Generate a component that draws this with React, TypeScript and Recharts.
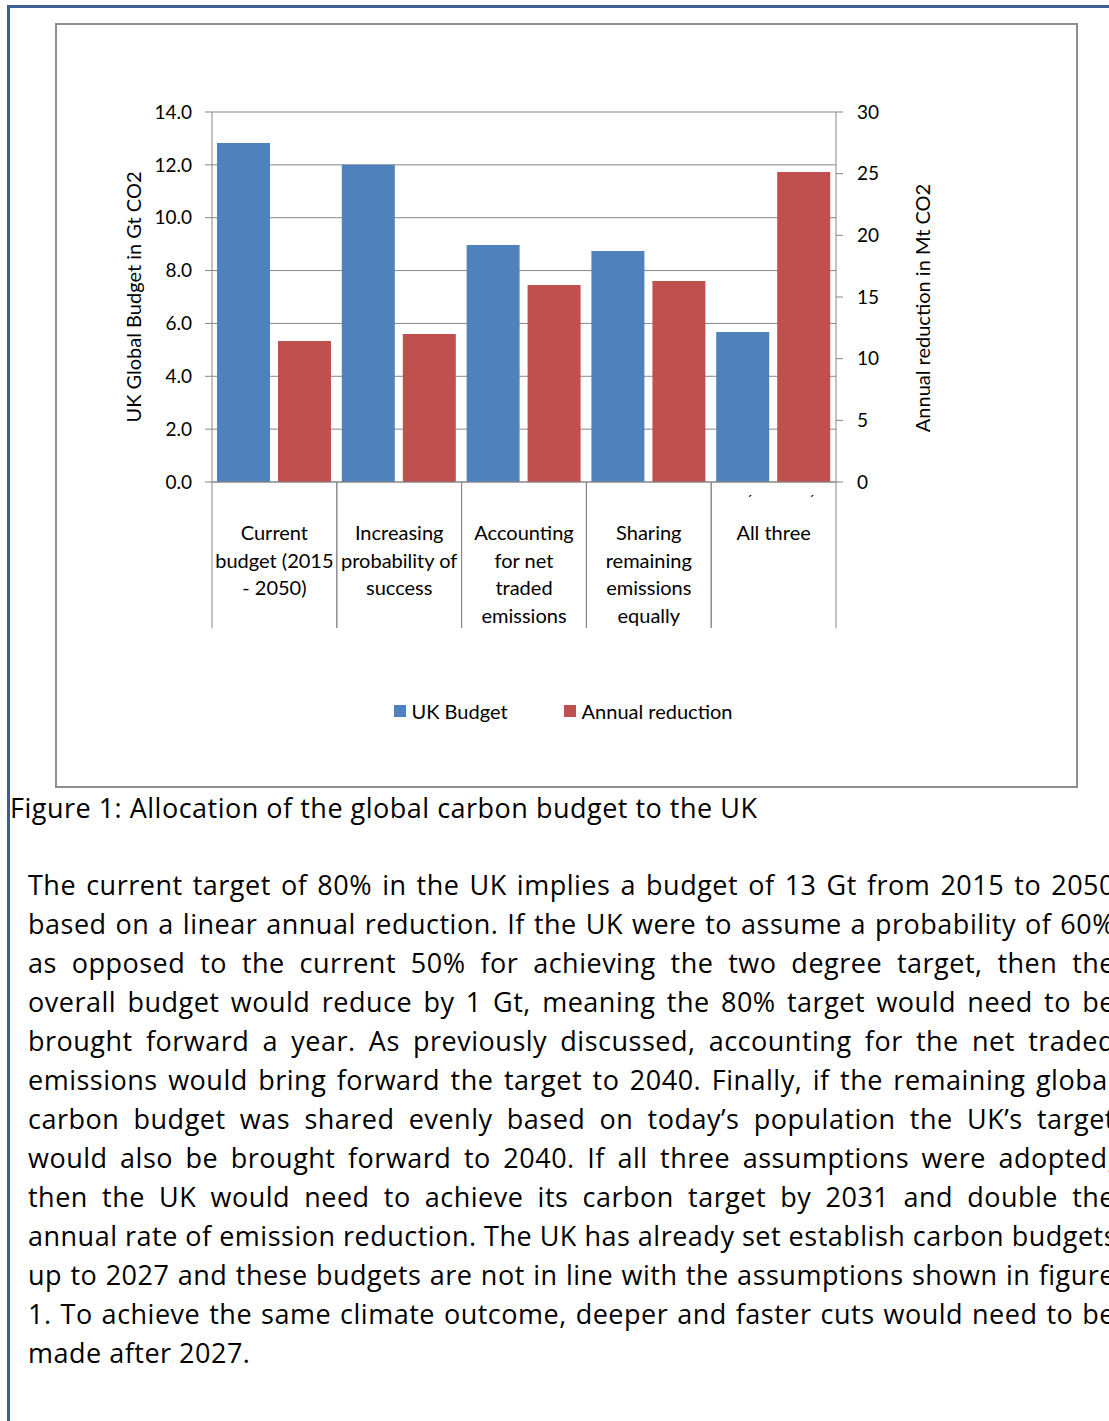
import React from 'react';
import { BarChart, Bar, XAxis, YAxis, CartesianGrid, Legend } from 'recharts';

const CATEGORIES = [
  'Current budget (2015 - 2050)',
  'Increasing probability of success',
  'Accounting for net traded emissions',
  'Sharing remaining emissions equally',
  'All three',
];
const CATEGORY_LINES = [
  ['Current', 'budget (2015', '- 2050)'],
  ['Increasing', 'probability of', 'success'],
  ['Accounting', 'for net', 'traded', 'emissions'],
  ['Sharing', 'remaining', 'emissions', 'equally'],
  ['All three'],
];
const UK_BUDGET = [12.83, 12.0, 8.97, 8.74, 5.68];
const ANNUAL_REDUCTION = [11.43, 12.0, 15.97, 16.3, 25.14];
const LEFT_TICKS = [0, 2, 4, 6, 8, 10, 12, 14];
const RIGHT_TICKS = [0, 5, 10, 15, 20, 25, 30];
const SERIES_ORDER = ['UK Budget', 'Annual reduction'];

const PARAGRAPH_LINES = [
  'The current target of 80% in the UK implies a budget of 13 Gt from 2015 to 2050',
  'based on a linear annual reduction. If the UK were to assume a probability of 60%',
  'as opposed to the current 50% for achieving the two degree target, then the',
  'overall budget would reduce by 1 Gt, meaning the 80% target would need to be',
  'brought forward a year. As previously discussed, accounting for the net traded',
  'emissions would bring forward the target to 2040. Finally, if the remaining global',
  'carbon budget was shared evenly based on today\u2019s population the UK\u2019s target',
  'would also be brought forward to 2040. If all three assumptions were adopted,',
  'then the UK would need to achieve its carbon target by 2031 and double the',
  'annual rate of emission reduction. The UK has already set establish carbon budgets',
  'up to 2027 and these budgets are not in line with the assumptions shown in figure',
  '1. To achieve the same climate outcome, deeper and faster cuts would need to be',
  'made after 2027.',
];

const data = CATEGORIES.map((name, i) => ({
  name,
  budget: UK_BUDGET[i],
  reduction: ANNUAL_REDUCTION[i],
}));

const FONT = 'Lato, "Open Sans", sans-serif';
const BODY_FONT = '"Open Sans", Lato, sans-serif';
const AXIS = '#868686';
const BLUE = '#4F81BD';
const RED = '#C0504D';

const CHART_W = 1022;
const CHART_H = 764;
const LEFT_W = 157;
const RIGHT_W = 241;
const PLOT_W = CHART_W - LEFT_W - RIGHT_W;
const BAND = PLOT_W / CATEGORIES.length;

const CategoryTick = (props: any) => {
  const { x, y, index } = props;
  const lines = CATEGORY_LINES[index] || [];
  const half = BAND / 2;
  const isLast = index === CATEGORIES.length - 1;
  return (
    <g>
      <line x1={x - half} x2={x - half} y1={y} y2={y + 146} stroke={AXIS} strokeWidth={1} />
      <line x1={x + half} x2={x + half} y1={y} y2={y + 146} stroke={AXIS} strokeWidth={1} />
      {isLast && (
        <g fontSize={14} fontFamily={FONT} fill="#000" textAnchor="middle">
          <text x={x - 24} y={y + 23}>{'\u00B4'}</text>
          <text x={x + 38} y={y + 23}>{'\u00B4'}</text>
        </g>
      )}
      {lines.map((l: string, i: number) => (
        <text
          key={i}
          x={x}
          y={y + 58 + i * 27.5}
          textAnchor="middle"
          fontSize={20}
          fontFamily={FONT}
          fill="#000"
        >
          {l}
        </text>
      ))}
    </g>
  );
};

const LegendContent = (props: any) => {
  const payload = [...(props.payload || [])].sort(
    (a: any, b: any) => SERIES_ORDER.indexOf(a.value) - SERIES_ORDER.indexOf(b.value)
  );
  return (
    <div
      style={{
        display: 'flex',
        justifyContent: 'center',
        alignItems: 'center',
        fontFamily: FONT,
        fontSize: 20,
        color: '#000',
        paddingRight: 6,
      }}
    >
      {payload.map((p: any, i: number) => (
        <span
          key={i}
          style={{ display: 'inline-flex', alignItems: 'center', marginLeft: i ? 56 : 0 }}
        >
          <span
            style={{ display: 'inline-block', width: 12, height: 12, background: p.color, marginRight: 6 }}
          />
          {p.value}
        </span>
      ))}
    </div>
  );
};

const LeftLabel = (props: any) => {
  const vb = props.viewBox || {};
  const cx = vb.x + 78;
  const cy = vb.y + vb.height / 2;
  return (
    <text
      x={cx}
      y={cy}
      transform={`rotate(-90, ${cx}, ${cy})`}
      textAnchor="middle"
      dominantBaseline="central"
      fontSize={20}
      fontFamily={FONT}
      fill="#000"
    >
      UK Global Budget in Gt CO2
    </text>
  );
};

const RightLabel = (props: any) => {
  const vb = props.viewBox || {};
  const cx = vb.x + 86;
  const cy = vb.y + vb.height / 2 + 11;
  return (
    <text
      x={cx}
      y={cy}
      transform={`rotate(-90, ${cx}, ${cy})`}
      textAnchor="middle"
      dominantBaseline="central"
      fontSize={20}
      fontFamily={FONT}
      fill="#000"
    >
      Annual reduction in Mt CO2
    </text>
  );
};

export default function App() {
  return (
    <div
      style={{
        position: 'absolute',
        left: 0,
        top: 0,
        width: 1109,
        height: 1421,
        overflow: 'hidden',
        background: '#fff',
        fontFamily: BODY_FONT,
        color: '#000',
      }}
    >
      <div
        style={{
          position: 'absolute',
          left: 7,
          top: 5,
          width: 1300,
          height: 1600,
          borderTop: '3px solid #3B5E93',
          borderLeft: '3px solid #3B5E93',
        }}
      />
      <div
        style={{
          position: 'absolute',
          left: 55,
          top: 23,
          width: 1023,
          height: 765,
          boxSizing: 'border-box',
          border: '2px solid #8E8E8E',
        }}
      />
      <div style={{ position: 'absolute', left: 55, top: 23 }}>
        <BarChart
          width={CHART_W}
          height={CHART_H}
          data={data}
          margin={{ top: 89, right: 0, bottom: 0, left: 0 }}
          barCategoryGap={5}
          barGap={8}
        >
          <CartesianGrid yAxisId="left" vertical={false} stroke={AXIS} />
          <XAxis
            dataKey="name"
            height={305}
            interval={0}
            tickLine={false}
            tickSize={0}
            tickMargin={0}
            axisLine={{ stroke: AXIS }}
            tick={<CategoryTick />}
          />
          <YAxis
            yAxisId="left"
            orientation="left"
            width={LEFT_W}
            domain={[0, 14]}
            ticks={LEFT_TICKS}
            interval={0}
            tickFormatter={(v: number) => v.toFixed(1)}
            tickSize={7}
            tickMargin={13}
            axisLine={{ stroke: AXIS }}
            tickLine={{ stroke: AXIS }}
            tick={{ fill: '#000', fontSize: 19, fontFamily: FONT }}
            label={<LeftLabel />}
          />
          <YAxis
            yAxisId="right"
            orientation="right"
            width={RIGHT_W}
            domain={[0, 30]}
            ticks={RIGHT_TICKS}
            interval={0}
            tickSize={7}
            tickMargin={14}
            axisLine={{ stroke: AXIS }}
            tickLine={{ stroke: AXIS }}
            tick={{ fill: '#000', fontSize: 19, fontFamily: FONT, textAnchor: 'start' }}
            label={<RightLabel />}
          />
          <Legend
            verticalAlign="middle"
            align="center"
            layout="horizontal"
            wrapperStyle={{ top: 676, left: 0, width: CHART_W }}
            content={<LegendContent />}
          />
          <Bar yAxisId="left" dataKey="budget" name="UK Budget" fill={BLUE} isAnimationActive={false} />
          <Bar yAxisId="right" dataKey="reduction" name="Annual reduction" fill={RED} isAnimationActive={false} />
        </BarChart>
      </div>
      <div
        style={{
          position: 'absolute',
          left: 10,
          top: 791.5,
          fontSize: 27,
          letterSpacing: 0.5,
          lineHeight: '32px',
          whiteSpace: 'nowrap',
        }}
      >
        Figure 1: Allocation of the global carbon budget to the UK
      </div>
      {PARAGRAPH_LINES.map((line, i) => {
        const last = i === PARAGRAPH_LINES.length - 1;
        return (
          <div
            key={i}
            style={{
              position: 'absolute',
              left: 28,
              top: 864.6 + i * 39,
              width: last ? 'auto' : 1087,
              fontSize: 27,
              letterSpacing: 0.5,
              lineHeight: '39px',
              textAlign: 'justify',
              textAlignLast: last ? 'left' : 'justify',
              whiteSpace: 'nowrap',
            } as React.CSSProperties}
          >
            {line}
          </div>
        );
      })}
    </div>
  );
}
